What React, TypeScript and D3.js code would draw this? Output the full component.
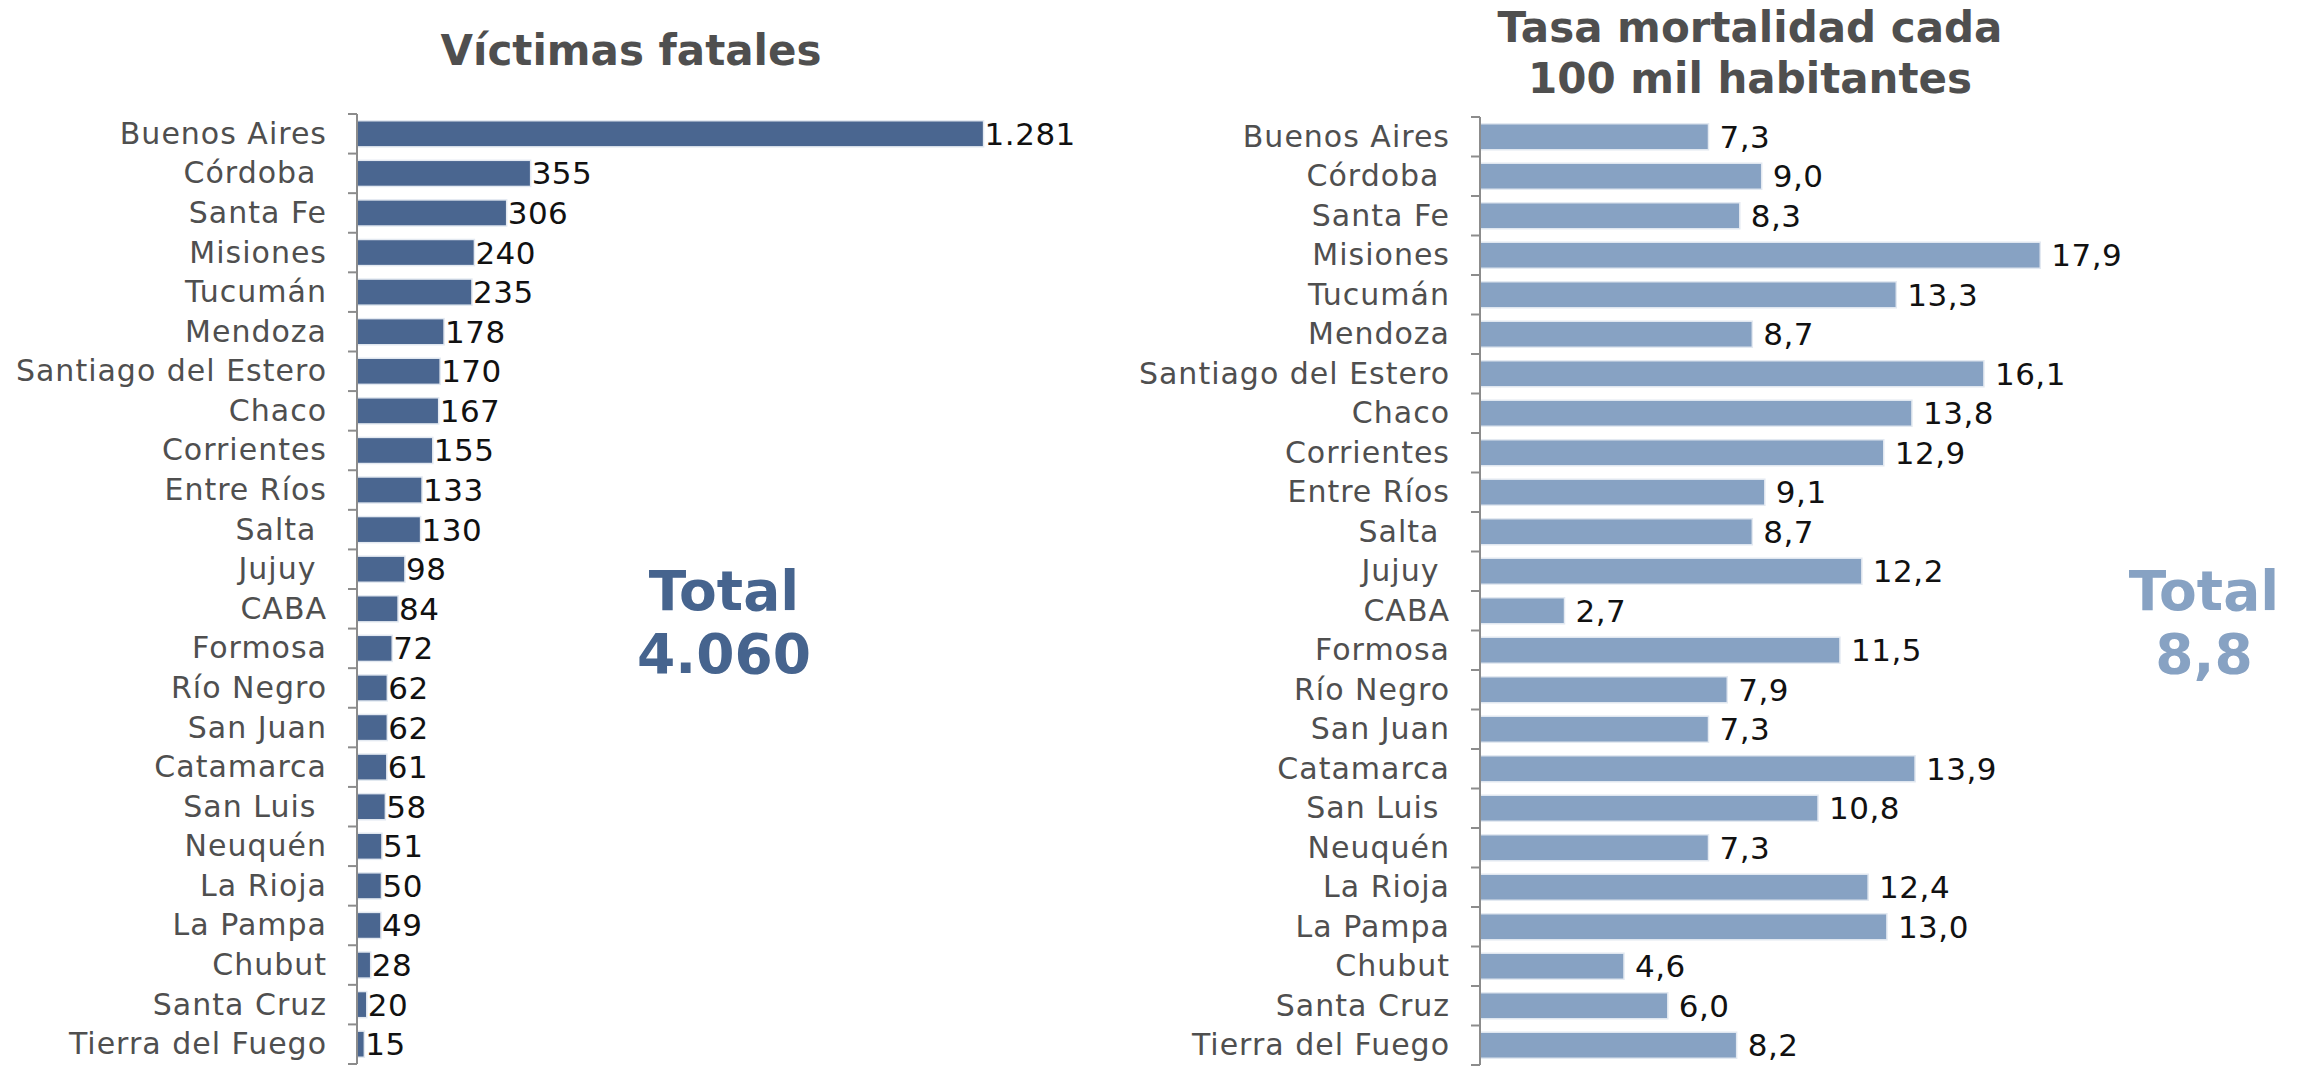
import { useMemo } from "react";
import * as d3 from "d3";

// provinces (trailing spaces are kept as in the original labels)
const PROVINCIAS_VICTIMAS = [
  "Buenos Aires", "Córdoba ", "Santa Fe", "Misiones", "Tucumán", "Mendoza",
  "Santiago del Estero", "Chaco", "Corrientes", "Entre Ríos", "Salta ", "Jujuy ",
  "CABA", "Formosa", "Río Negro", "San Juan", "Catamarca", "San Luis ",
  "Neuquén", "La Rioja", "La Pampa", "Chubut", "Santa Cruz", "Tierra del Fuego",
];
const VICTIMAS = [1281, 355, 306, 240, 235, 178, 170, 167, 155, 133, 130, 98, 84, 72, 62, 62, 61, 58, 51, 50, 49, 28, 20, 15];

const PROVINCIAS_TASA = [
  "Buenos Aires", "Córdoba ", "Santa Fe", "Misiones", "Tucumán", "Mendoza",
  "Santiago del Estero", "Chaco", "Corrientes", "Entre Ríos", "Salta ", "Jujuy ",
  "CABA", "Formosa", "Río Negro", "San Juan", "Catamarca", "San Luis ",
  "Neuquén", "La Rioja", "La Pampa", "Chubut", "Santa Cruz", "Tierra del Fuego",
];
const TASA = [7.3, 9.0, 8.3, 17.9, 13.3, 8.7, 16.1, 13.8, 12.9, 9.1, 8.7, 12.2, 2.7, 11.5, 7.9, 7.3, 13.9, 10.8, 7.3, 12.4, 13.0, 4.6, 6.0, 8.2];

const TOTAL_VICTIMAS = "4.060";
const TOTAL_TASA = "8,8";

const FONT = "Verdana, 'DejaVu Sans', sans-serif";
const GRAY = "#4f4f4f";

type PanelProps = {
  cats: string[];
  values: number[];
  x0: number;
  top: number;
  bottom: number;
  domainMax: number;
  rangeLen: number;
  color: string;
  fmt: (v: number) => string;
  labelGap: number;
};

const Panel = ({ cats, values, x0, top, bottom, domainMax, rangeLen, color, fmt, labelGap }: PanelProps) => {
  const yScale = useMemo(
    () => d3.scaleBand<string>().domain(d3.range(cats.length).map(String)).range([top, bottom]).paddingInner(0.34).paddingOuter(0.17),
    [cats, top, bottom]
  );
  const xScale = useMemo(() => d3.scaleLinear().domain([0, domainMax]).range([0, rangeLen]), [domainMax, rangeLen]);
  const step = yScale.step();

  return (
    <g>
      {values.map((v, i) => {
        const y = yScale(String(i))!;
        const bw = yScale.bandwidth();
        const cy = y + bw / 2;
        return (
          <g key={i}>
            <rect x={x0} y={y} width={xScale(v)} height={bw} fill={color} stroke="#e3e9f1" strokeWidth={1.5} />
            <text x={x0 + xScale(v) + labelGap} y={cy + 11} fontSize={31} letterSpacing={0.5} fill="#111" fontFamily={FONT}>
              {fmt(v)}
            </text>
            <text
              x={x0 - 30}
              y={cy + 10}
              fontSize={30}
              letterSpacing={1}
              fill={GRAY}
              textAnchor="end"
              fontFamily={FONT}
              style={{ whiteSpace: "pre" }}
            >
              {cats[i]}
            </text>
          </g>
        );
      })}
      <line x1={x0} x2={x0} y1={top} y2={bottom} stroke="#8c8c8c" strokeWidth={2} />
      {d3.range(cats.length + 1).map((i) => (
        <line key={i} x1={x0 - 9} x2={x0} y1={top + i * step} y2={top + i * step} stroke="#8c8c8c" strokeWidth={2} />
      ))}
    </g>
  );
};

const fmtInt = (v: number) => d3.format(",")(v).replace(/,/g, ".");
const fmtDec = (v: number) => v.toFixed(1).replace(".", ",");

export default function App() {
  return (
    <svg width={2300} height={1067} style={{ position: "absolute", left: 0, top: 0, background: "#fff" }}>
      <text x={631} y={65} textAnchor="middle" fontSize={42} fontWeight="bold" fill={GRAY} fontFamily={FONT}>
        Víctimas fatales
      </text>
      <text x={1750} y={42} textAnchor="middle" fontSize={42} fontWeight="bold" fill={GRAY} fontFamily={FONT}>
        Tasa mortalidad cada
      </text>
      <text x={1750} y={93} textAnchor="middle" fontSize={42} fontWeight="bold" fill={GRAY} fontFamily={FONT}>
        100 mil habitantes
      </text>

      <Panel
        cats={PROVINCIAS_VICTIMAS}
        values={VICTIMAS}
        x0={357}
        top={114}
        bottom={1064}
        domainMax={1400}
        rangeLen={684.8}
        color="#4a6690"
        fmt={fmtInt}
        labelGap={1}
      />
      <Panel
        cats={PROVINCIAS_TASA}
        values={TASA}
        x0={1480}
        top={117}
        bottom={1065}
        domainMax={20}
        rangeLen={626}
        color="#87a2c3"
        fmt={fmtDec}
        labelGap={11}
      />

      <text x={724} y={610} textAnchor="middle" fontSize={55} fontWeight="bold" fill="#46648e" fontFamily={FONT}>
        Total
      </text>
      <text x={724} y={673} textAnchor="middle" fontSize={55} fontWeight="bold" fill="#46648e" fontFamily={FONT}>
        {TOTAL_VICTIMAS}
      </text>
      <text x={2204} y={610} textAnchor="middle" fontSize={55} fontWeight="bold" fill="#87a2c3" fontFamily={FONT}>
        Total
      </text>
      <text x={2204} y={673} textAnchor="middle" fontSize={55} fontWeight="bold" fill="#87a2c3" fontFamily={FONT}>
        {TOTAL_TASA}
      </text>
    </svg>
  );
}
